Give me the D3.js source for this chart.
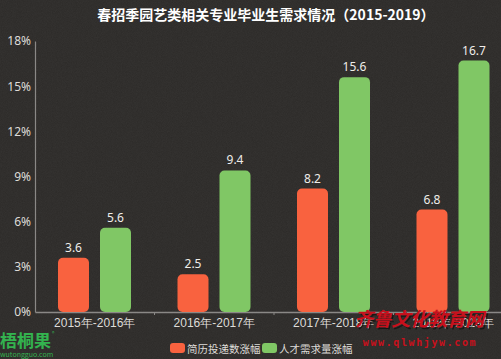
<!DOCTYPE html>
<html><head><meta charset="utf-8">
<script src="https://cdn.jsdelivr.net/npm/d3@7"></script>
<style>
html,body{margin:0;padding:0;background:#2b2927;}
svg{display:block;font-family:"Noto Sans CJK SC","Noto Sans",sans-serif;}
</style></head>
<body>
<svg id="chart" width="501" height="359"></svg>
<script>
const categories = ["2015年-2016年","2016年-2017年","2017年-2018年","2018年-2019年"];
const seriesNames = ["简历投递数涨幅","人才需求量涨幅"];
const resumeGrowth = [3.6, 2.5, 8.2, 6.8];
const demandGrowth = [5.6, 9.4, 15.6, 16.7];
const yTicks = [0,3,6,9,12,15,18];
const colors = ["#f9623f","#80c765"];
const title = "春招季园艺类相关专业毕业生需求情况（2015-2019）";

const svg = d3.select("#chart");
const W = 501, H = 359;

const defs = svg.append("defs");
const f = defs.append("filter").attr("id","noise").attr("x",0).attr("y",0).attr("width","100%").attr("height","100%");
f.append("feTurbulence").attr("type","fractalNoise").attr("baseFrequency",1.2).attr("numOctaves",1).attr("result","n");
f.append("feColorMatrix").attr("type","matrix").attr("values","0 0 0 0 0.5  0 0 0 0 0.5  0 0 0 0 0.5  0 0 0 0.08 0");
svg.append("rect").attr("width",W).attr("height",H).attr("fill","#2b2927");
svg.append("rect").attr("width",W).attr("height",H).attr("filter","url(#noise)");

const x0 = d3.scaleBand().domain(categories).range([35, 513]);
const x1 = d3.scaleBand().domain(seriesNames).range([23, 96]).paddingInner(0.262);
const y = d3.scaleLinear().domain([0,18]).range([312, 41]);

svg.append("text").attr("x",266).attr("y",20).attr("text-anchor","middle")
  .attr("fill","#ffffff").attr("font-size",14).attr("font-weight","bold").text(title);

const yAxis = svg.append("g").attr("transform","translate(35,0)")
  .call(d3.axisLeft(y).tickValues(yTicks).tickFormat(d=>d+"%").tickSize(0).tickPadding(4));
yAxis.select(".domain").attr("stroke","#8a8886").attr("stroke-width",1.2);
yAxis.selectAll("text").attr("fill","#dedcd8").attr("font-size",12).attr("font-family","'Noto Sans','Noto Sans CJK SC',sans-serif");

const xAxis = svg.append("g").attr("transform","translate(0,312)")
  .call(d3.axisBottom(x0).tickSize(0).tickPadding(6));
xAxis.select(".domain").attr("stroke","#8a8886").attr("stroke-width",1.5);
xAxis.selectAll("text").attr("fill","#dedcd8").attr("font-size",12);
xAxis.selectAll(".bt").data(categories.slice(1)).enter().append("line")
  .attr("x1",d=>x0(d)).attr("x2",d=>x0(d)).attr("y1",0).attr("y2",3)
  .attr("stroke","#8a8886");

const data = categories.map((c,i)=>({cat:c, vals:[resumeGrowth[i], demandGrowth[i]]}));
const groups = svg.append("g").selectAll("g").data(data).enter().append("g")
  .attr("transform",d=>`translate(${x0(d.cat)},0)`);
groups.selectAll("rect").data(d=>d.vals.map((v,j)=>({s:seriesNames[j], v, j})))
  .enter().append("rect")
  .attr("x",d=>x1(d.s)).attr("width",x1.bandwidth())
  .attr("y",d=>y(d.v)).attr("height",d=>y(0)-y(d.v))
  .attr("rx",5).attr("fill",d=>colors[d.j]);
groups.selectAll("text.v").data(d=>d.vals.map((v,j)=>({s:seriesNames[j], v, j})))
  .enter().append("text").attr("class","v")
  .attr("x",d=>x1(d.s)+x1.bandwidth()/2).attr("y",d=>y(d.v)-6)
  .attr("text-anchor","middle").attr("fill","#efede9").attr("font-size",12)
  .attr("font-family","'Noto Sans',sans-serif")
  .text(d=>d.v.toFixed(1));

const legendX = [170, 262];
const lg = svg.append("g").selectAll("g").data(seriesNames).enter().append("g")
  .attr("transform",(d,i)=>`translate(${legendX[i]},343)`);
lg.append("rect").attr("width",15).attr("height",10).attr("rx",3).attr("fill",(d,i)=>colors[i]);
lg.append("text").attr("x",17).attr("y",9.5).attr("fill","#dedcd8").attr("font-size",10.5).text(d=>d);

svg.append("text").attr("x",0).attr("y",347).attr("fill","#33b34f").attr("font-size",17)
  .attr("font-weight","bold").text("梧桐果");
svg.append("text").attr("x",52).attr("y",335).attr("fill","#33b34f").attr("font-size",5).text("®");
svg.append("text").attr("x",0).attr("y",357).attr("fill","#33b34f").attr("font-size",7).text("wutongguo.com");
svg.append("text").attr("x",421).attr("y",328).attr("text-anchor","middle").attr("fill","#000").attr("opacity",0.5)
  .attr("font-size",19).attr("font-style","italic").attr("letter-spacing",-0.5).text("齐鲁文化教育网");
svg.append("text").attr("x",419).attr("y",326).attr("text-anchor","middle").attr("fill","#c8101c")
  .attr("font-size",19).attr("font-weight","bold").attr("font-style","italic").attr("letter-spacing",-0.5).text("齐鲁文化教育网");
svg.append("text").attr("x",420).attr("y",346).attr("text-anchor","middle").attr("fill","#c8101c")
  .attr("font-size",10).attr("font-weight","bold").attr("letter-spacing",1.6).attr("font-family","'DejaVu Sans Mono',monospace").text("www.qlwhjyw.com");
</script>
</body></html>
